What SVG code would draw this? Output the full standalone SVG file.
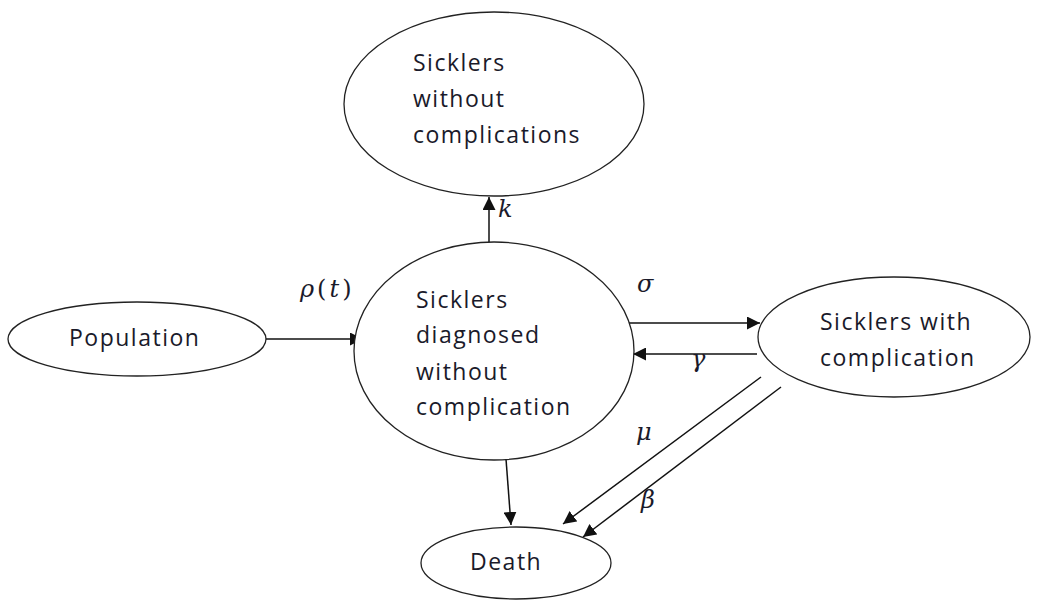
<svg xmlns="http://www.w3.org/2000/svg" width="1039" height="604" viewBox="0 0 1039 604">
<style>
.n{fill:#fff;stroke:#222;stroke-width:1.3}
.t{font-family:"Open Sans","Liberation Sans",sans-serif;font-size:23px;letter-spacing:1.5px;fill:#1a1a2a}
.c{stroke:#111;stroke-width:1.5;fill:none;marker-end:url(#b)}
.m{font-family:"DejaVu Serif","Liberation Serif",serif;font-style:italic;font-size:24px;fill:#1a1a2a}
.u{font-style:normal}
</style>
<defs>
<marker id="b" viewBox="0 0 10 10" refX="10" refY="5" markerWidth="13" markerHeight="13" markerUnits="userSpaceOnUse" orient="auto">
<path d="M0,0 L10,5 L0,10 z" fill="#111"/>
</marker>
</defs>
<rect width="1039" height="604" fill="#fff"/>
<g id="connectors">
<line class="c" x1="489" y1="256" x2="489" y2="197"/>
<line class="c" x1="240" y1="339" x2="363" y2="339"/>
<line class="c" x1="627" y1="323" x2="760" y2="323"/>
<line class="c" x1="757" y1="354" x2="633" y2="354"/>
<line class="c" x1="506" y1="459" x2="511" y2="525"/>
<line class="c" x1="761" y1="377" x2="563" y2="524"/>
<line class="c" x1="781" y1="387" x2="583" y2="537"/>
<text class="m" x="498" y="217">k</text>
<text class="m" x="300" y="297" letter-spacing="3">ρ<tspan class="u">(</tspan>t<tspan class="u">)</tspan></text>
<text class="m" x="637" y="292">σ</text>
<text class="m" x="691" y="367">γ</text>
<text class="m" x="636" y="440">μ</text>
<text class="m" x="641" y="508">β</text>
</g>
<g id="top">
<ellipse class="n" cx="494" cy="104" rx="150" ry="92"/>
<text class="t" x="413" y="71">Sicklers</text>
<text class="t" x="413" y="107">without</text>
<text class="t" x="413" y="143">complications</text>
</g>
<g id="main">
<ellipse class="n" cx="494" cy="351" rx="140" ry="109"/>
<text class="t" x="416" y="308">Sicklers</text>
<text class="t" x="416" y="343">diagnosed</text>
<text class="t" x="416" y="380">without</text>
<text class="t" x="416" y="415">complication</text>
</g>
<g id="population">
<ellipse class="n" cx="137" cy="339" rx="129" ry="37"/>
<text class="t" x="69" y="346">Population</text>
</g>
<g id="complication">
<ellipse class="n" cx="894" cy="337" rx="136" ry="60"/>
<text class="t" x="820" y="330">Sicklers with</text>
<text class="t" x="820" y="366">complication</text>
</g>
<g id="death">
<ellipse class="n" cx="516" cy="563" rx="95" ry="36"/>
<text class="t" x="470" y="570">Death</text>
</g>
</svg>
